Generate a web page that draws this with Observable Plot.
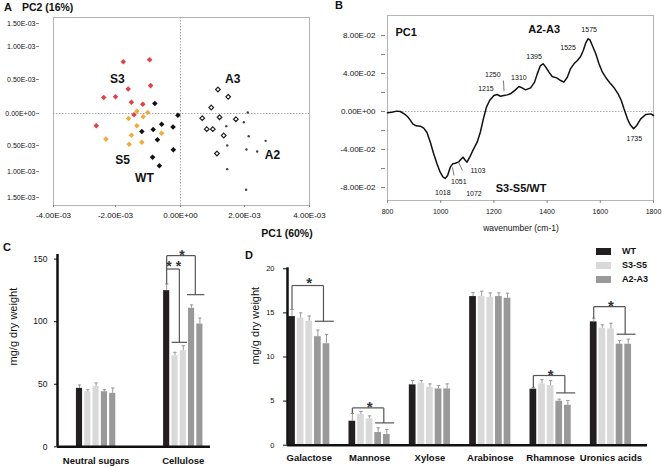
<!DOCTYPE html>
<html><head><meta charset="utf-8">
<script src="https://cdn.jsdelivr.net/npm/d3@7"></script>
<script src="https://cdn.jsdelivr.net/npm/@observablehq/plot@0.6"></script>
<style>
body{margin:0;background:#fff;}
#fig{position:relative;width:662px;height:467px;overflow:hidden;font-family:"Liberation Sans",Arial,sans-serif;color:#111;}
.t{position:absolute;line-height:1;white-space:nowrap;}
</style></head><body><div id="fig"></div>
<script>
// ---------- Panel A: PCA scores (units of 1E-03) ----------
const aXTicks = [-4, -2, 0, 2, 4];
const aYTicks = [-1.5, -1, -0.5, 0, 0.5, 1, 1.5];
const aS3x = [-1.76, -0.95, -1.61, -0.92, -2.38, -2.0, -1.51, -1.16, -1.43, -2.62];
const aS3y = [0.77, 0.80, 0.36, 0.41, 0.235, 0.245, 0.166, 0.137, -0.02, -0.19];
const aS5x = [-1.34, -1.01, -1.60, -1.15, -1.34, -2.31, -1.51, -0.58, -1.19, -1.58];
const aS5y = [0.034, 0.015, -0.078, -0.052, -0.19, -0.40, -0.34, -0.31, -0.45, -0.48];
const aWTx = [-0.79, -0.08, -1.19, -0.84, -0.58, -0.23, -0.71, -0.22, -0.86, -0.65];
const aWTy = [0.147, -0.027, -0.28, -0.25, -0.167, -0.21, -0.41, -0.58, -0.725, -0.89];
const aA3x = [1.17, 1.49, 0.96, 0.68, 1.22, 1.73, 0.82, 1.01, 1.35, 1.14];
const aA3y = [0.353, 0.245, 0.088, -0.073, -0.058, -0.089, -0.245, -0.245, -0.344, -0.654];
const aA2x = [2.10, 1.98, 1.43, 2.13, 2.65, 1.46, 2.06, 2.39, 1.46, 2.05];
const aA2y = [0.015, -0.136, -0.198, -0.355, -0.427, -0.5, -0.577, -0.615, -0.955, -1.35];
const aGroupNames = ["S3", "A3", "S5", "WT", "A2"];
const aGroupX = [-1.94, 1.63, -1.78, -1.11, 2.86];
const aGroupY = [0.5, 0.5, -0.79, -1.135, -0.69];

// ---------- Panel B: PC1 loadings ----------
const bWave = [800,816,835,848,863,875,885,895,908,923,936,948,961,973,986,998,1009,1017,1026,1036,1045,1055,1068,1078,1084,1093,1099,1109,1122,1137,1149,1162,1172,1184,1200,1212,1225,1237,1250,1262,1281,1294,1306,1319,1338,1353,1363,1375,1385,1395,1407,1419,1436,1451,1463,1476,1488,1501,1514,1526,1536,1545,1554,1561,1570,1583,1595,1608,1624,1639,1652,1667,1679,1689,1702,1712,1725,1737,1752,1771,1790,1800];
const bLoad = [-0.0014,-0.0007,0.0004,0,-0.0025,-0.0053,-0.0088,-0.0130,-0.0151,-0.0154,-0.0175,-0.0218,-0.0323,-0.0439,-0.0551,-0.0639,-0.0691,-0.0705,-0.0674,-0.0586,-0.0551,-0.0544,-0.0530,-0.0498,-0.0481,-0.0516,-0.0533,-0.0481,-0.0404,-0.0323,-0.0218,-0.0060,0.0046,0.0116,0.0168,0.0179,0.0161,0.0168,0.0175,0.0186,0.0228,0.0263,0.0249,0.0228,0.0249,0.0309,0.0396,0.0484,0.0502,0.0467,0.0414,0.0368,0.0354,0.0326,0.0309,0.0361,0.0449,0.0502,0.0537,0.0579,0.0642,0.0719,0.0765,0.0754,0.0695,0.0607,0.0502,0.0414,0.0344,0.0291,0.0249,0.0186,0.0116,0.0028,-0.0077,-0.0137,-0.0182,-0.0147,-0.0077,-0.0032,-0.0025,-0.0042];
const bXTicks = [800, 1000, 1200, 1400, 1600, 1800];
const bYTicks = [-0.08, -0.04, 0, 0.04, 0.08];
const bYMinor = [-0.08, -0.06, -0.04, -0.02, 0, 0.02, 0.04, 0.06, 0.08];
const bPeakText = ["1575","1525","1395","1310","1250","1215","1735","1103","1051","1018","1072"];
const bPeakX = [1558, 1479, 1351, 1294, 1196, 1170, 1728, 1140, 1068, 1008, 1125];
const bPeakY = [0.0863, 0.0674, 0.0579, 0.0358, 0.0389, 0.0242, -0.0284, -0.0621, -0.0737, -0.0853, -0.0863];
const bNames = ["PC1", "A2-A3", "S3-S5/WT"];
const bNameX = [870, 1389, 1302];
const bNameY = [0.0836, 0.0863, -0.0807];
const bLeadX1 = [1236, 1044, 1067], bLeadX2 = [1238, 1050, 1082];
const bLeadY1 = [0.0326, -0.0586, -0.0534], bLeadY2 = [0.0214, -0.0674, -0.0621];

// ---------- Panels C & D: sugar composition ----------
const seriesNames = ["WT", "S3", "S5", "A2", "A3"];
const seriesGroup = ["WT", "S3-S5", "S3-S5", "A2-A3", "A2-A3"];
const legendKeys = ["WT", "S3-S5", "A2-A3"];
const barColors = ["#231f20", "#d9d9d9", "#999999"];

const cCategories = ["Neutral sugars", "Cellulose"];
const cYTicks = [0, 50, 100, 150];
const cWT = [46.7, 124.8], cS3 = [44.0, 72.8], cS5 = [48.3, 76.8], cA2 = [44.0, 110.7], cA3 = [42.7, 98.1];
const cWTe = [2.7, 5.3], cS3e = [1.6, 2.7], cS5e = [2.7, 4.0], cA2e = [1.6, 2.7], cA3e = [4.3, 4.8];
const cBrLabel = ["* *", "*"];
const cBrStart = [130.1, 142.1], cBrTop = [142.1, 152.8], cBrCap = [83.5, 121.6], cBrStar = [146.9, 156];

const dCategories = ["Galactose", "Mannose", "Xylose", "Arabinose", "Rhamnose", "Uronics acids"];
const dYTicks = [0, 5, 10, 15, 20];
const dWT = [14.58, 2.72, 6.84, 16.85, 6.35, 13.98];
const dS3 = [14.40, 3.48, 7.03, 16.85, 6.95, 13.26];
const dS5 = [14.05, 2.98, 6.57, 16.77, 6.76, 13.18];
const dA2 = [12.30, 1.44, 6.38, 16.85, 4.99, 11.45];
const dA3 = [11.50, 1.21, 6.38, 16.66, 4.53, 11.45];
const dWTe = [0.80, 0.87, 0.49, 0.45, 0.19, 0.42];
const dS3e = [0.60, 0.34, 0.30, 0.60, 0.49, 0.38];
const dS5e = [0.60, 0.34, 0.38, 0.49, 0.57, 0.64];
const dA2e = [0.75, 0.53, 0.38, 0.42, 0.23, 0.42];
const dA3e = [1.05, 0.57, 0.57, 0.57, 0.53, 0.57];
const dBrGroup = ["Galactose", "Mannose", "Rhamnose", "Uronics acids"];
const dBrStart = [15.4, 3.59, 6.54, 14.4], dBrTop = [18.1, 4.23, 7.9, 15.7];
const dBrCap = [14.05, 2.53, 5.93, 12.58], dBrStar = [18.85, 4.76, 8.39, 16.2];

// ---------- helpers ----------
const FONT = "'Liberation Sans', Arial, sans-serif";
const fig = document.getElementById("fig");
function put(el, left, top) { el.style.position = "absolute"; el.style.left = left + "px"; el.style.top = top + "px"; fig.appendChild(el); }
function label(txt, x, cy, size, bold, center) {
  const d = document.createElement("div"); d.className = "t"; d.textContent = txt;
  d.style.fontSize = size + "px"; d.style.fontWeight = bold ? "bold" : "normal";
  d.style.left = x + "px"; d.style.top = (cy - size * 0.5) + "px";
  if (center) d.style.transform = "translateX(-50%)";
  fig.appendChild(d); return d;
}
const zip = (xs, ys) => xs.map((x, i) => ({x, y: ys[i]}));
function barRows(vals, errs, step) {
  const out = [];
  vals.forEach((arr, b) => arr.forEach((v, g) => out.push({g, b, v, e: errs[b][g], grp: seriesGroup[b], pos: g * step + b})));
  return out;
}
function bracket(base, y0, yTop, xr, yCap, capL, capR) {
  return [
    {x1: base, y1: y0, x2: base, y2: yTop},
    {x1: base, y1: yTop, x2: base + xr, y2: yTop},
    {x1: base + xr, y1: yTop, x2: base + xr, y2: yCap},
    {x1: base + capL, y1: yCap, x2: base + capR, y2: yCap}
  ];
}
const eFmtA = d => d === 0 ? "0.00E+00" : d.toFixed(2) + "E-03";

// ---------- Panel A ----------
const pA = Plot.plot({
  width: 330, height: 240, marginTop: 17, marginBottom: 35, marginLeft: 53, marginRight: 21,
  style: {fontFamily: FONT, background: "none", color: "#111"},
  x: {type: "linear", domain: aXTicks, range: [53, 115, 180, 244, 309]},
  y: {type: "linear", domain: aYTicks, range: [197, 171, 145, 113, 79, 46, 23]},
  marks: [
    Plot.frame({stroke: "#b4b4b4"}),
    Plot.ruleY([0], {stroke: "#aaa", strokeDasharray: "1.5,1.5"}),
    Plot.ruleX([0], {stroke: "#aaa", strokeDasharray: "1.5,1.5"}),
    Plot.axisY({ticks: aYTicks, tickSize: 0, tickPadding: 18, fontSize: 7, label: null,
      tickFormat: d => d === 0 ? "0.00E+00" : Math.abs(d).toFixed(2) + "E-03"}),
    Plot.axisY({ticks: aYTicks, tickSize: 3, dx: -14, stroke: "#888", tickFormat: () => "", label: null}),
    Plot.axisX({ticks: aXTicks, tickSize: 2, tickPadding: 5, fontSize: 8, label: null, tickFormat: eFmtA, stroke: "#888"}),
    Plot.dot(zip(aS3x, aS3y), {x: "x", y: "y", symbol: "diamond2", r: 2.5, fill: "#e0424a", stroke: "none"}),
    Plot.dot(zip(aS5x, aS5y), {x: "x", y: "y", symbol: "diamond2", r: 2.5, fill: "#f2aa3c", stroke: "none"}),
    Plot.dot(zip(aWTx, aWTy), {x: "x", y: "y", symbol: "diamond2", r: 2.5, fill: "#111", stroke: "none"}),
    Plot.dot(zip(aA3x, aA3y), {x: "x", y: "y", symbol: "diamond2", r: 2.1, fill: "#fff", stroke: "#222", strokeWidth: 1.2}),
    Plot.dot(zip(aA2x, aA2y), {x: "x", y: "y", r: 1.2, fill: "#444", stroke: "none"}),
    Plot.text(aGroupNames, {x: (d, i) => aGroupX[i], y: (d, i) => aGroupY[i], text: d => d, fontSize: 12, fontWeight: "bold", fill: "#111"})
  ]
});
put(pA, 0, 0);
label("A", 4, 7, 11, true);
label("PC2 (16%)", 22, 7, 10.5, true);
label("PC1 (60%)", 287, 233, 10.5, true, true);

// ---------- Panel B ----------
const bFmt = d => d === 0 ? "0.00E+00" : (d * 100).toFixed(2) + "E-02";
const pB = Plot.plot({
  width: 332, height: 230, marginTop: 15, marginBottom: 30, marginLeft: 57, marginRight: 9,
  style: {fontFamily: FONT, background: "none", color: "#111"},
  x: {domain: [800, 1800]},
  y: {domain: [-0.09368, 0.10105]},
  marks: [
    Plot.frame({stroke: "#b4b4b4"}),
    Plot.ruleY([0], {stroke: "#aaa", strokeDasharray: "1.5,1.5"}),
    Plot.axisY({ticks: bYMinor, tickSize: 4, dx: -2, stroke: "#888", tickFormat: () => "", label: null}),
    Plot.axisY({ticks: bYTicks, tickSize: 0, tickPadding: 12, fontSize: 8, tickFormat: bFmt, label: null}),
    Plot.axisX({ticks: bXTicks, tickSize: 3, tickPadding: 6, fontSize: 7, stroke: "#888", tickFormat: d => String(d), label: null}),
    Plot.line(zip(bWave, bLoad), {x: "x", y: "y", stroke: "#111", strokeWidth: 1.5, curve: "linear"}),
    Plot.link(bLeadX1, {x1: d => d, x2: (d, i) => bLeadX2[i], y1: (d, i) => bLeadY1[i], y2: (d, i) => bLeadY2[i], stroke: "#555", strokeWidth: 0.8}),
    Plot.text(bPeakText, {x: (d, i) => bPeakX[i], y: (d, i) => bPeakY[i], text: d => d, fontSize: 7, fill: "#111"}),
    Plot.text(bNames, {x: (d, i) => bNameX[i], y: (d, i) => bNameY[i], text: d => d, fontSize: 11, fontWeight: "bold", fill: "#111"})
  ]
});
put(pB, 330, 0);
label("B", 335, 5, 11, true);
label("wavenumber (cm-1)", 521, 228, 8.5, false, true);

// ---------- Panel C ----------
const cStep = 10.5, cXDom = [-2.65, 15.78];
const cRows = barRows([cWT, cS3, cS5, cA2, cA3], [cWTe, cS3e, cS5e, cA2e, cA3e], cStep);
const cBase = cCategories.indexOf("Cellulose") * cStep;
const cSegs = [
  ...bracket(cBase, cBrStart[0], cBrTop[0], 1.53, cBrCap[0], 0.6, 2.45),
  ...bracket(cBase, cBrStart[1], cBrTop[1], 3.45, cBrCap[1], 2.45, 4.54)
];
const cStarX = [cBase + 0.85, cBase + 1.85];
const pC = Plot.plot({
  width: 225, height: 237, marginTop: 24, marginBottom: 20.7, marginLeft: 57, marginRight: 15,
  style: {fontFamily: FONT, background: "none", color: "#111"},
  x: {domain: cXDom},
  y: {domain: [0, 153.7]},
  color: {domain: legendKeys, range: barColors},
  marks: [
    Plot.rect(cRows, {x1: d => d.pos - 0.37, x2: d => d.pos + 0.37, y1: 0, y2: "v", fill: "grp"}),
    Plot.ruleX(cRows, {x: "pos", y1: "v", y2: d => d.v + d.e, stroke: "#9a9a9a"}),
    Plot.link(cRows, {x1: d => d.pos - 0.2, x2: d => d.pos + 0.2, y1: d => d.v + d.e, y2: d => d.v + d.e, stroke: "#9a9a9a"}),
    Plot.link(cSegs, {x1: "x1", y1: "y1", x2: "x2", y2: "y2", stroke: "#555", strokeWidth: 1.2}),
    Plot.text(cBrLabel, {x: (d, i) => cStarX[i], y: (d, i) => cBrStar[i], text: d => d, fontSize: 14, fontWeight: "bold", dy: 4, fill: "#333"}),
    Plot.ruleX([cXDom[0]], {stroke: "#111", strokeWidth: 2.5}),
    Plot.ruleY([0], {stroke: "#111", strokeWidth: 2.5}),
    Plot.axisY({ticks: cYTicks, tickSize: 3, tickPadding: 7, fontSize: 8.5, label: null}),
    Plot.axisX({ticks: cCategories.map((c, g) => g * cStep + 2), tickFormat: d => cCategories[Math.round((d - 2) / cStep)],
      tickSize: 0, tickPadding: 10.4, fontSize: 9.5, fontWeight: "bold", label: null}),
    Plot.text(["mg/g dry weight"], {frameAnchor: "left", rotate: -90, dx: -44, dy: 14.8, fontSize: 11, fill: "#111"})
  ]
});
put(pC, 0, 230);
label("C", 3, 247, 11, true);

// ---------- Panel D ----------
const dStep = 7, dXDom = [-0.522, 41.24];
const dRows = barRows([dWT, dS3, dS5, dA2, dA3], [dWTe, dS3e, dS5e, dA2e, dA3e], dStep);
const dSegs = dBrGroup.flatMap((c, i) => bracket(dCategories.indexOf(c) * dStep, dBrStart[i], dBrTop[i], 3.65, dBrCap[i], 2.65, 4.85));
const pD = Plot.plot({
  width: 432, height: 237, marginTop: 37.3, marginBottom: 22.3, marginLeft: 57, marginRight: 15,
  style: {fontFamily: FONT, background: "none", color: "#111"},
  x: {domain: dXDom},
  y: {domain: [0, 20.11]},
  color: {domain: legendKeys, range: barColors},
  marks: [
    Plot.rect(dRows, {x1: d => d.pos - 0.39, x2: d => d.pos + 0.39, y1: 0, y2: "v", fill: "grp"}),
    Plot.ruleX(dRows, {x: "pos", y1: "v", y2: d => d.v + d.e, stroke: "#9a9a9a"}),
    Plot.link(dRows, {x1: d => d.pos - 0.2, x2: d => d.pos + 0.2, y1: d => d.v + d.e, y2: d => d.v + d.e, stroke: "#9a9a9a"}),
    Plot.link(dSegs, {x1: "x1", y1: "y1", x2: "x2", y2: "y2", stroke: "#555", strokeWidth: 1.2}),
    Plot.text(dBrGroup, {x: d => dCategories.indexOf(d) * dStep + 2.0, y: (d, i) => dBrStar[i], text: () => "*", fontSize: 15, fontWeight: "bold", dy: 4, fill: "#333"}),
    Plot.ruleX([dXDom[0]], {stroke: "#111", strokeWidth: 2.5}),
    Plot.ruleY([0], {stroke: "#111", strokeWidth: 2.5}),
    Plot.axisY({ticks: dYTicks, tickSize: 4, tickPadding: 9, fontSize: 7.5, label: null}),
    Plot.axisX({ticks: dCategories.map((c, g) => g * dStep + 2), tickFormat: d => dCategories[Math.round((d - 2) / dStep)],
      tickSize: 0, tickPadding: 8.7, fontSize: 9.5, fontWeight: "bold", label: null}),
    Plot.text(["mg/g dry weight"], {frameAnchor: "left", rotate: -90, dx: -32, dy: 8, fontSize: 11, fill: "#111"})
  ]
});
put(pD, 230, 230);
label("D", 245, 255, 11, true);

// legend
const lgTop = [251, 265, 279];
legendKeys.forEach((k, i) => {
  const sw = document.createElement("div");
  sw.style.cssText = `position:absolute;left:596px;top:${lgTop[i] - 3.5}px;width:15px;height:7px;background:${barColors[i]};`;
  fig.appendChild(sw);
  label(k, 622, lgTop[i], 9, true);
});
</script></body></html>
